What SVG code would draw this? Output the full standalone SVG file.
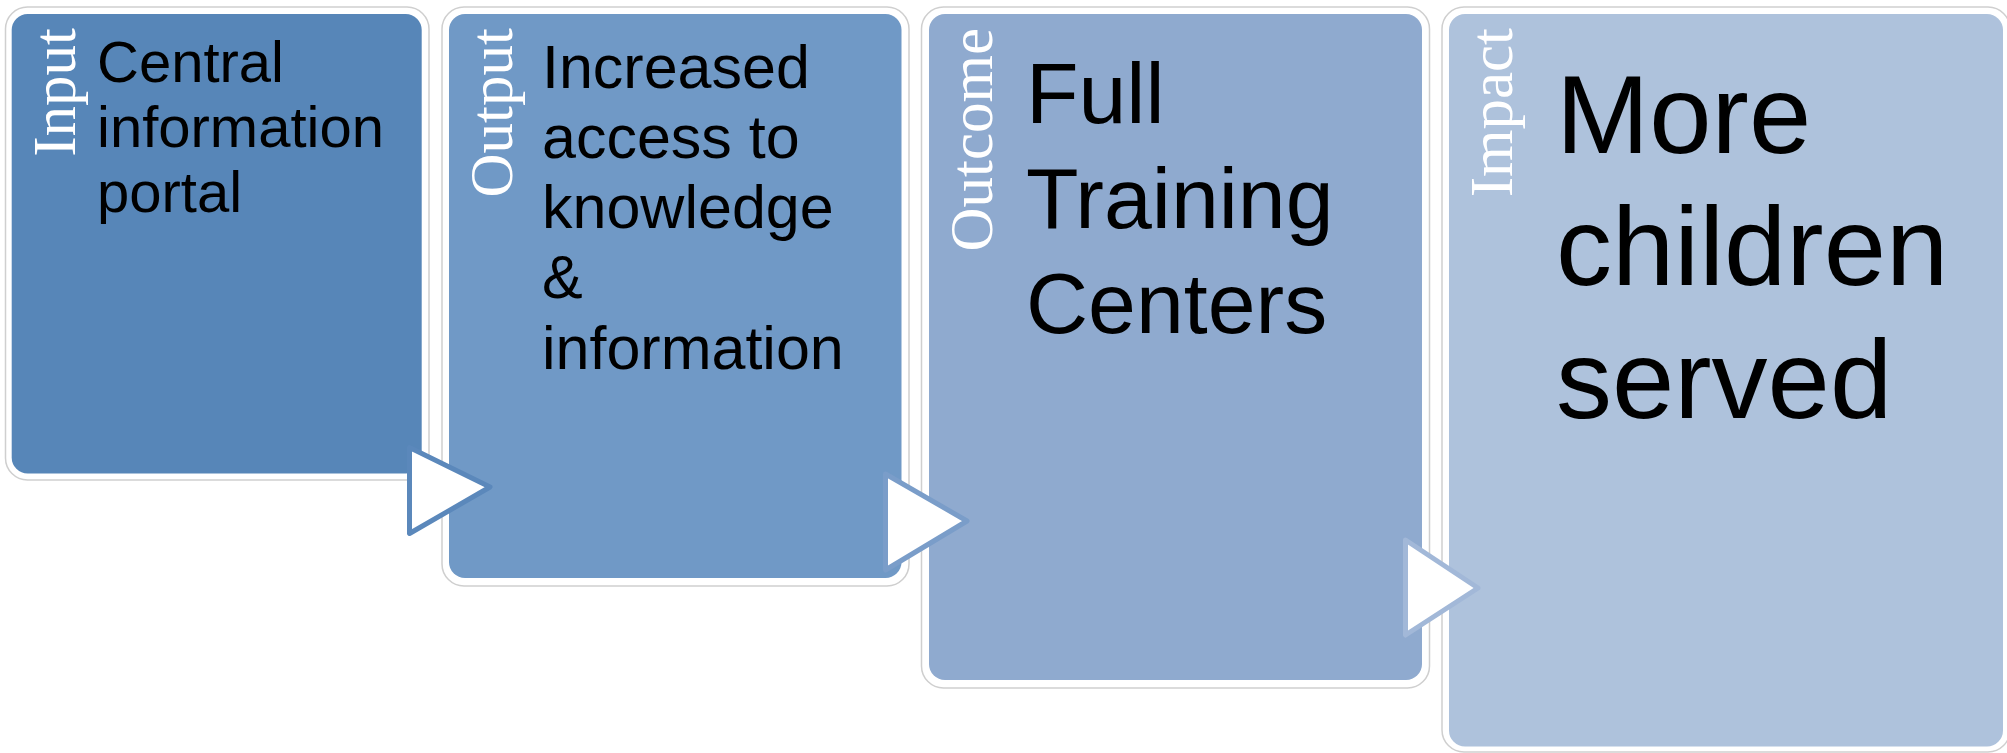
<svg xmlns="http://www.w3.org/2000/svg" width="2007" height="753" viewBox="0 0 2007 753">
<style>
.frame{fill:#ffffff;stroke:#cfcfcf;stroke-width:1.5}
.main{font-family:"Liberation Sans",Arial,sans-serif;fill:#000000}
.side{font-family:"Liberation Serif","Times New Roman",serif;font-size:61px;fill:#ffffff;text-anchor:end}
.arrow{fill:#ffffff;stroke-width:5;stroke-linejoin:round}
</style>
<rect width="2007" height="753" fill="#ffffff"/>
<g id="node-input">
<rect class="frame" x="5.5" y="7" width="423.5" height="473" rx="22"/>
<rect x="11.7" y="14" width="410" height="459.5" rx="16" fill="#5786b8"/>
<text class="side" transform="translate(75,28) rotate(-90)">Input</text>
<text class="main" font-size="58" x="97"><tspan x="97" y="82">Central</tspan><tspan x="97" y="147">information</tspan><tspan x="97" y="212">portal</tspan></text>
</g>
<g id="node-output">
<rect class="frame" x="442" y="7" width="467" height="579" rx="22"/>
<rect x="449" y="14" width="452.5" height="564" rx="16" fill="#7099c6"/>
<text class="side" transform="translate(512,28) rotate(-90)">Output</text>
<text class="main" font-size="61" x="542"><tspan x="542" y="88">Increased</tspan><tspan x="542" y="158">access to</tspan><tspan x="542" y="228">knowledge</tspan><tspan x="542" y="298">&amp;</tspan><tspan x="542" y="369">information</tspan></text>
</g>
<g id="node-outcome">
<rect class="frame" x="921.5" y="7" width="508" height="681" rx="22"/>
<rect x="929" y="14" width="493" height="666" rx="16" fill="#8faacf"/>
<text class="side" transform="translate(992,28) rotate(-90)">Outcome</text>
<text class="main" font-size="86" x="1026"><tspan x="1026" y="123">Full</tspan><tspan x="1026" y="228">Training</tspan><tspan x="1026" y="333">Centers</tspan></text>
</g>
<g id="node-impact">
<rect class="frame" x="1442" y="7" width="568" height="745" rx="22"/>
<rect x="1449" y="14" width="554" height="732.5" rx="16" fill="#aec2dc"/>
<text class="side" transform="translate(1512,28) rotate(-90)">Impact</text>
<text class="main" font-size="112" x="1556"><tspan x="1556" y="153">More</tspan><tspan x="1556" y="285">children</tspan><tspan x="1556" y="418">served</tspan></text>
</g>
<g id="connectors">
<polygon class="arrow" stroke="#5b88bb" points="409.5,447.5 490,487 409.5,533.5"/>
<polygon class="arrow" stroke="#7a9dc9" points="885.5,474 967,521 885.5,570"/>
<polygon class="arrow" stroke="#a2b8d8" points="1405.5,540 1478,588 1405.5,635"/>
</g>
</svg>
